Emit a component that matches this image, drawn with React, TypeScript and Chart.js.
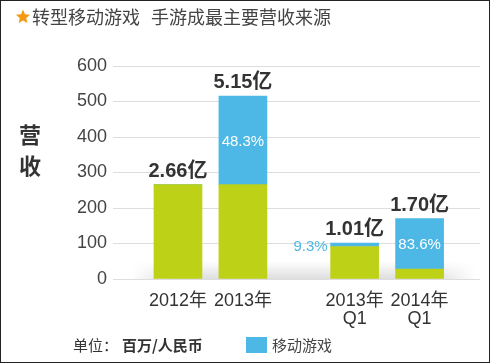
import React, { useEffect, useRef } from "react";
import { Chart, registerables } from "chart.js";

Chart.register(...registerables);

// ---- data ----
const categories = [["2012年"], ["2013年"], ["2013年", "Q1"], ["2014年", "Q1"]];
const otherRevenue = [266, 266, 91.6, 28];
const mobileRevenue = [0, 249, 9.4, 142];
const totalLabels = ["2.66亿", "5.15亿", "1.01亿", "1.70亿"];
const mobileShareLabels = ["", "48.3%", "9.3%", "83.6%"];
const yTicks = [0, 100, 200, 300, 400, 500, 600];

// layout slots on the linear x axis (gap between yearly and quarterly groups)
const slots = [0, 1, 2.72, 3.72];

const GREEN = "#BDD117";
const BLUE = "#4DB7E5";
const FONT = '"Liberation Sans", Arial, "Noto Sans CJK SC", sans-serif';
const CJK = '"Noto Sans CJK SC", "Liberation Sans", sans-serif';

function drawStar(ctx: CanvasRenderingContext2D, cx: number, cy: number, r: number) {
  ctx.beginPath();
  for (let i = 0; i < 10; i++) {
    const rad = i % 2 === 0 ? r : r * 0.45;
    const a = -Math.PI / 2 + (i * Math.PI) / 5;
    const px = cx + rad * Math.cos(a);
    const py = cy + rad * Math.sin(a);
    if (i === 0) ctx.moveTo(px, py);
    else ctx.lineTo(px, py);
  }
  ctx.closePath();
  ctx.fillStyle = "#F39A12";
  ctx.fill();
}

const decorPlugin = {
  id: "decor",
  beforeDatasetsDraw(chart: any) {
    const { ctx, chartArea } = chart;
    const w = 345;
    const h = 18;
    const off = document.createElement("canvas");
    off.width = w;
    off.height = h;
    const o = off.getContext("2d")!;
    const vg = o.createLinearGradient(0, 0, 0, h);
    vg.addColorStop(0, "rgba(0,0,0,0)");
    vg.addColorStop(1, "rgba(0,0,0,0.13)");
    o.fillStyle = vg;
    o.fillRect(0, 0, w, h);
    o.globalCompositeOperation = "destination-in";
    const hg = o.createLinearGradient(0, 0, w, 0);
    hg.addColorStop(0, "rgba(0,0,0,0)");
    hg.addColorStop(0.12, "rgba(0,0,0,1)");
    hg.addColorStop(0.88, "rgba(0,0,0,1)");
    hg.addColorStop(1, "rgba(0,0,0,0)");
    o.fillStyle = hg;
    o.fillRect(0, 0, w, h);
    ctx.drawImage(off, chartArea.left + 18, chartArea.bottom - h);
  },
  afterDatasetsDraw(chart: any) {
    const { ctx } = chart;
    const m0 = chart.getDatasetMeta(0);
    const m1 = chart.getDatasetMeta(1);
    ctx.save();
    for (let i = 0; i < categories.length; i++) {
      const g = m0.data[i];
      const b = m1.data[i];
      const topY = mobileRevenue[i] > 0 ? b.y : g.y;
      ctx.font = `bold 20px ${FONT}`;
      ctx.fillStyle = "#333";
      ctx.textAlign = "center";
      ctx.textBaseline = "alphabetic";
      ctx.fillText(totalLabels[i], g.x, topY - 8);
      const label = mobileShareLabels[i];
      if (!label) continue;
      ctx.font = `15px ${FONT}`;
      ctx.textBaseline = "middle";
      const segH = Math.abs(b.base - b.y);
      if (segH > 20) {
        ctx.fillStyle = "#fff";
        ctx.textAlign = "center";
        ctx.fillText(label, b.x, (b.y + b.base) / 2 + 1);
      } else {
        ctx.fillStyle = BLUE;
        ctx.textAlign = "right";
        ctx.fillText(label, b.x - b.width / 2 - 3, b.y + 4);
      }
    }
    ctx.restore();
  },
  afterDraw(chart: any) {
    const { ctx } = chart;
    ctx.save();
    // title
    drawStar(ctx, 23, 17, 7.5);
    ctx.font = `18px ${CJK}`;
    ctx.fillStyle = "#444";
    ctx.textBaseline = "middle";
    ctx.textAlign = "left";
    ctx.fillText("转型移动游戏", 32, 17);
    ctx.fillText("手游成最主要营收来源", 151, 17);
    // y title
    ctx.font = `bold 22px ${CJK}`;
    ctx.fillStyle = "#333";
    ctx.textAlign = "center";
    ctx.fillText("营", 30, 135);
    ctx.fillText("收", 30, 166);
    // legend / unit
    ctx.font = `15px ${CJK}`;
    ctx.textAlign = "left";
    ctx.fillStyle = "#333";
    ctx.fillText("单位：", 73, 345);
    ctx.font = `bold 15px ${CJK}`;
    ctx.fillText("百万/人民币", 122, 345);
    ctx.fillStyle = BLUE;
    ctx.fillRect(246, 337, 21, 16);
    ctx.font = `15px ${CJK}`;
    ctx.fillStyle = "#444";
    ctx.fillText("移动游戏", 272, 345);
    // border
    ctx.strokeStyle = "#222";
    ctx.lineWidth = 1;
    ctx.strokeRect(0.5, 0.5, 489, 362);
    ctx.restore();
  },
};

export default function App() {
  const ref = useRef<HTMLCanvasElement>(null);
  useEffect(() => {
    document.body.style.margin = "0";
    const chart = new Chart(ref.current!, {
      type: "bar",
      data: {
        datasets: [
          {
            label: "其他",
            data: otherRevenue.map((v, i) => ({ x: slots[i], y: v })),
            backgroundColor: GREEN,
            barThickness: 48,
          },
          {
            label: "移动游戏",
            data: mobileRevenue.map((v, i) => ({ x: slots[i], y: v })),
            backgroundColor: BLUE,
            barThickness: 48,
          },
        ],
      },
      plugins: [decorPlugin],
      options: {
        animation: false,
        responsive: false,
        devicePixelRatio: 1,
        layout: { padding: { top: 66, right: 10, left: 0, bottom: 0 } },
        plugins: { legend: { display: false }, tooltip: { enabled: false } },
        scales: {
          x: {
            type: "linear",
            stacked: true,
            offset: false,
            min: -1,
            max: 4.65,
            grid: { display: false },
            border: { display: false },
            afterBuildTicks: (scale: any) => {
              scale.ticks = slots.map((v) => ({ value: v }));
            },
            afterFit: (scale: any) => {
              scale.height = 84;
            },
            ticks: {
              autoSkip: false,
              maxRotation: 0,
              padding: 5,
              color: "#333",
              font: { size: 18, family: FONT, lineHeight: 1.0 },
              callback: (_v: any, i: number) => categories[i],
            },
          },
          y: {
            stacked: true,
            min: 0,
            max: 600,
            afterBuildTicks: (scale: any) => {
              scale.ticks = yTicks.map((v) => ({ value: v }));
            },
            afterFit: (scale: any) => {
              scale.width = 113;
            },
            grid: { color: "#dddddd", drawTicks: false },
            border: { display: false },
            ticks: {
              padding: 6,
              color: "#444",
              font: { size: 18, family: FONT },
            },
          },
        },
      } as any,
    });
    return () => chart.destroy();
  }, []);
  return <canvas ref={ref} width={490} height={363} style={{ display: "block" }} />;
}
